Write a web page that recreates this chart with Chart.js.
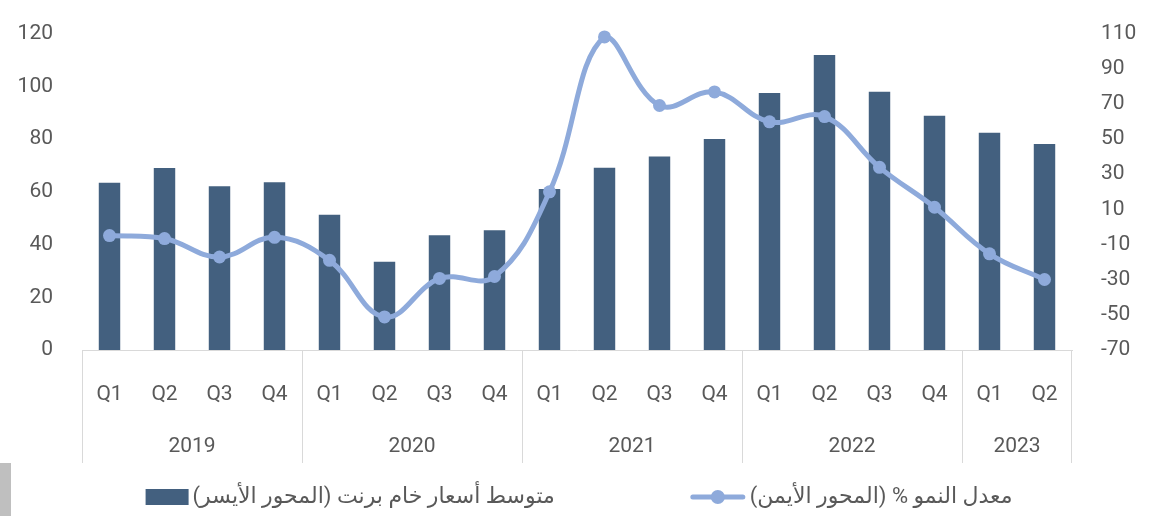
<!DOCTYPE html>
<html lang="ar">
<head>
<meta charset="UTF-8">
<title>Brent</title>
<script src="https://cdn.jsdelivr.net/npm/chart.js"></script>
<style>
  html, body { margin: 0; padding: 0; background: #fff; }
  #wrap { width: 1163px; height: 516px; }
</style>
</head>
<body>
<div id="wrap"><canvas id="brentChart" width="1163" height="516"></canvas></div>
<script>
// data
var quarters = ['Q1', 'Q2', 'Q3', 'Q4', 'Q1', 'Q2', 'Q3', 'Q4', 'Q1', 'Q2', 'Q3', 'Q4',
                'Q1', 'Q2', 'Q3', 'Q4', 'Q1', 'Q2'];
var years = ['2019', '2020', '2021', '2022', '2023'];
var yearSpans = [4, 4, 4, 4, 2];
var brentPrice = [63.4, 69.0, 62.1, 63.6, 51.3, 33.5, 43.5, 45.4, 61.1, 69.1, 73.4, 80.0,
                  97.5, 111.9, 97.9, 88.8, 82.4, 78.1];
var growthRate = [-4.9, -6.6, -17.1, -5.9, -19.0, -51.2, -29.3, -28.2, 20.0, 108.1, 69.1, 76.8,
                  59.8, 62.8, 33.9, 11.2, -15.3, -29.9];
var leftTicks = [0, 20, 40, 60, 80, 100, 120];
var rightTicks = [-70, -50, -30, -10, 10, 30, 50, 70, 90, 110];
var priceLabel = 'متوسط أسعار خام برنت (المحور الأيسر)';
var growthLabel = 'معدل النمو % (المحور الأيمن)';

var barColor = '#43607f';
var lineColor = '#8eaadb';
var textColor = '#595959';
var gridColor = '#d9d9d9';
var baseFont = 'Roboto, "DejaVu Sans", sans-serif';

// year row + group dividers under the quarter labels
var yearGroups = {
    id: 'yearGroups',
    afterDraw: function (chart) {
        var x = chart.scales.x;
        var ctx = chart.ctx;
        var step = x.getPixelForValue(1) - x.getPixelForValue(0);
        var start = 0;
        ctx.save();
        ctx.strokeStyle = gridColor;
        ctx.lineWidth = 1;
        ctx.fillStyle = textColor;
        ctx.font = '21px ' + baseFont;
        ctx.textAlign = 'center';
        ctx.textBaseline = 'middle';
        for (var i = 0; i < years.length; i++) {
            var left = x.getPixelForValue(start) - step / 2;
            var right = x.getPixelForValue(start + yearSpans[i] - 1) + step / 2;
            ctx.beginPath();
            ctx.moveTo(Math.round(left) + 0.5, x.top);
            ctx.lineTo(Math.round(left) + 0.5, x.bottom);
            if (i === years.length - 1) {
                ctx.moveTo(Math.round(right) - 0.5, x.top);
                ctx.lineTo(Math.round(right) - 0.5, x.bottom);
            }
            ctx.stroke();
            ctx.fillText(years[i], (left + right) / 2, x.top + 97);
            start += yearSpans[i];
        }
        ctx.restore();
    }
};

// legend: bar box on the left item, line-with-marker on the right item
var bottomLegend = {
    id: 'bottomLegend',
    afterDraw: function (chart) {
        var ctx = chart.ctx;
        var y = 497;
        ctx.save();
        ctx.font = '22px ' + baseFont;
        ctx.direction = 'rtl';
        var w1 = ctx.measureText(priceLabel).width;
        var w2 = ctx.measureText(growthLabel).width;
        var total = 43 + 4 + w1 + 135 + 56 + 4 + w2;
        var x = 579 - total / 2;

        ctx.fillStyle = barColor;
        ctx.fillRect(x, y - 8, 43, 16);
        x += 47;
        ctx.fillStyle = textColor;
        ctx.textAlign = 'right';
        ctx.textBaseline = 'middle';
        ctx.fillText(priceLabel, x + w1, y);
        x += w1 + 135;

        ctx.strokeStyle = lineColor;
        ctx.lineWidth = 5;
        ctx.lineCap = 'round';
        ctx.beginPath();
        ctx.moveTo(x + 3, y);
        ctx.lineTo(x + 53, y);
        ctx.stroke();
        ctx.fillStyle = lineColor;
        ctx.beginPath();
        ctx.arc(x + 28, y, 7, 0, Math.PI * 2);
        ctx.fill();
        x += 60;
        ctx.fillStyle = textColor;
        ctx.fillText(growthLabel, x + w2, y);
        ctx.restore();

        // grey tab at the lower left
        ctx.save();
        ctx.fillStyle = '#bfbfbf';
        ctx.fillRect(0, 463, 11, 53);
        ctx.restore();
    }
};

var ctxBrent = document.getElementById('brentChart').getContext('2d');
var brentChart = new Chart(ctxBrent, {
    type: 'bar',
    data: {
        labels: quarters,
        datasets: [{
            type: 'line',
            label: growthLabel,
            data: growthRate,
            yAxisID: 'y1',
            borderColor: lineColor,
            backgroundColor: lineColor,
            borderWidth: 5,
            pointRadius: 6.5,
            pointHoverRadius: 6.5,
            pointBorderWidth: 0,
            tension: 0.4,
            clip: false,
            order: 0
        }, {
            type: 'bar',
            label: priceLabel,
            data: brentPrice,
            yAxisID: 'y',
            backgroundColor: barColor,
            categoryPercentage: 1,
            barPercentage: 0.39,
            order: 1
        }]
    },
    options: {
        responsive: false,
        devicePixelRatio: 1,
        animation: false,
        layout: { padding: { top: 20, bottom: 53, left: 0, right: 0 } },
        plugins: {
            legend: { display: false },
            tooltip: { enabled: false }
        },
        scales: {
            x: {
                grid: { display: false },
                border: { display: true, color: gridColor, width: 1 },
                ticks: { color: textColor, font: { family: baseFont, size: 21 }, padding: 24, maxRotation: 0 },
                afterFit: function (scale) { scale.height = 113; }
            },
            y: {
                position: 'left',
                min: leftTicks[0],
                max: leftTicks[leftTicks.length - 1],
                grid: { display: false },
                border: { display: false },
                ticks: { stepSize: 20, color: textColor, font: { family: baseFont, size: 21 }, padding: 21 },
                afterFit: function (scale) { scale.width = 82; }
            },
            y1: {
                position: 'right',
                min: rightTicks[0],
                max: rightTicks[rightTicks.length - 1],
                grid: { display: false },
                border: { display: false },
                ticks: { stepSize: 20, color: textColor, font: { family: baseFont, size: 21 }, padding: 21 },
                afterFit: function (scale) { scale.width = 91; }
            }
        }
    },
    plugins: [yearGroups, bottomLegend]
});
</script>
</body>
</html>
